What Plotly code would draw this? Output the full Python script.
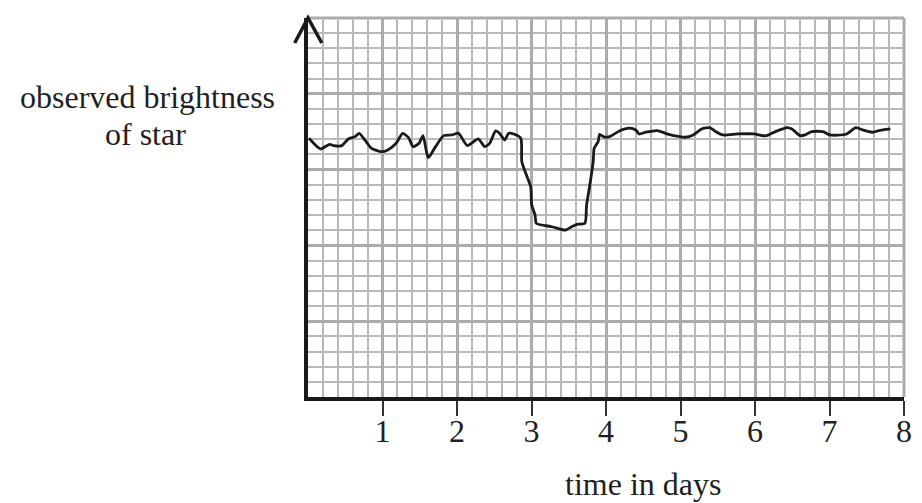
import plotly.graph_objects as go

# time in days
time_days = [0.013, 0.168, 0.291, 0.344, 0.455, 0.542, 0.631, 0.688, 0.763, 0.852,
             0.984, 1.071, 1.183, 1.270, 1.349, 1.411, 1.491, 1.544, 1.614, 1.712,
             1.821, 1.931, 2.020, 2.139, 2.284, 2.373, 2.439, 2.519, 2.571, 2.638,
             2.694, 2.770, 2.857, 2.870, 2.923, 2.989, 3.003, 3.048, 3.065, 3.276,
             3.452, 3.541, 3.607, 3.717, 3.739, 3.783, 3.828, 3.841, 3.894, 3.915,
             3.971, 4.048, 4.180, 4.312, 4.401, 4.444, 4.533, 4.688, 4.798, 4.930,
             5.062, 5.172, 5.283, 5.393, 5.459, 5.569, 5.767, 5.988, 6.143, 6.275,
             6.429, 6.495, 6.606, 6.672, 6.759, 6.914, 7.003, 7.222, 7.354, 7.443,
             7.575, 7.664, 7.817]
# observed brightness (grid units, 5 major squares tall)
brightness = [3.413, 3.272, 3.334, 3.316, 3.316, 3.404, 3.435, 3.479, 3.391, 3.281,
              3.236, 3.259, 3.347, 3.479, 3.421, 3.303, 3.347, 3.448, 3.157, 3.303,
              3.448, 3.457, 3.479, 3.316, 3.404, 3.303, 3.347, 3.510, 3.479, 3.391,
              3.479, 3.466, 3.413, 3.104, 2.951, 2.774, 2.532, 2.400, 2.291, 2.246,
              2.202, 2.246, 2.277, 2.291, 2.532, 2.797, 3.104, 3.281, 3.369, 3.466,
              3.431, 3.435, 3.510, 3.546, 3.523, 3.470, 3.493, 3.514, 3.479, 3.444,
              3.427, 3.457, 3.536, 3.554, 3.510, 3.457, 3.470, 3.470, 3.444, 3.501,
              3.554, 3.536, 3.448, 3.457, 3.501, 3.501, 3.457, 3.466, 3.554, 3.523,
              3.493, 3.514, 3.536]

x_tick_vals = [1, 2, 3, 4, 5, 6, 7, 8]
x_tick_text = ["1", "2", "3", "4", "5", "6", "7", "8"]

FONT = "Liberation Serif, Times New Roman, serif"
TEXT = "#231f20"
MAJOR = "#ababab"
MINOR = "#b9b9b9"
FS = 32

L, R, T, B = 308, 10, 18, 106
PW = 922 - L - R
PH = 503 - T - B


def px_to_paper_x(px):
    return (px - L) / PW


def px_to_paper_y(py):
    return (503 - B - py) / PH


fig = go.Figure()
fig.add_trace(go.Scatter(
    x=time_days, y=brightness, mode="lines",
    line=dict(color="#1a1a1a", width=2.8, shape="spline", smoothing=0.6),
    hoverinfo="skip", showlegend=False,
))

ax_l = px_to_paper_x(L - 13.5)
ax_r = px_to_paper_x(L + 14)
ay = px_to_paper_y(T + 25)

fig.update_layout(
    width=922, height=503,
    margin=dict(l=L, r=R, t=T, b=B),
    paper_bgcolor="white", plot_bgcolor="white",
    font=dict(family=FONT, size=FS, color=TEXT),
    xaxis=dict(
        range=[0, 8], tickvals=x_tick_vals, ticktext=x_tick_text,
        showgrid=True, gridcolor=MAJOR, gridwidth=3,
        minor=dict(dtick=0.2, showgrid=True, gridcolor=MINOR, gridwidth=1.8),
        showline=True, linecolor="#1a1a1a", linewidth=3.5,
        ticks="outside", ticklen=15, tickwidth=2.2, tickcolor="#333333",
        ticklabelstandoff=-12, ticklabeloverflow="allow",
        tickfont=dict(family=FONT, size=FS, color=TEXT),
        zeroline=False, fixedrange=True,
    ),
    yaxis=dict(
        range=[0, 5], dtick=1, showticklabels=False,
        showgrid=True, gridcolor=MAJOR, gridwidth=3,
        minor=dict(dtick=0.2, showgrid=True, gridcolor=MINOR, gridwidth=1.8),
        showline=True, linecolor="#1a1a1a", linewidth=3.5,
        ticks="", zeroline=False, fixedrange=True,
    ),
    shapes=[
        dict(type="line", xref="paper", yref="paper", x0=0, x1=1, y0=1, y1=1,
             line=dict(color=MAJOR, width=3), layer="below"),
        dict(type="line", xref="paper", yref="paper", x0=1, x1=1, y0=0, y1=1,
             line=dict(color=MAJOR, width=3), layer="below"),
        dict(type="path", xref="paper", yref="paper",
             path=f"M {ax_l},{ay} L 0,1 L {ax_r},{ay}",
             line=dict(color="#1a1a1a", width=3.5)),
    ],
    annotations=[
        dict(text="observed brightness", xref="paper", yref="paper",
             x=px_to_paper_x(145), y=px_to_paper_y(97), xanchor="center", yanchor="middle",
             showarrow=False, font=dict(family=FONT, size=FS, color=TEXT)),
        dict(text="of star", xref="paper", yref="paper",
             x=px_to_paper_x(143), y=px_to_paper_y(134), xanchor="center", yanchor="middle",
             showarrow=False, font=dict(family=FONT, size=FS, color=TEXT)),
        dict(text="time in days", xref="paper", yref="paper",
             x=px_to_paper_x(648), y=px_to_paper_y(484), xanchor="center", yanchor="middle",
             showarrow=False, font=dict(family=FONT, size=FS, color=TEXT)),
    ],
)

fig.write_html("out.html", config={"responsive": False, "displayModeBar": False},
               post_script="document.body.style.margin='0';document.body.style.overflow='hidden';")
